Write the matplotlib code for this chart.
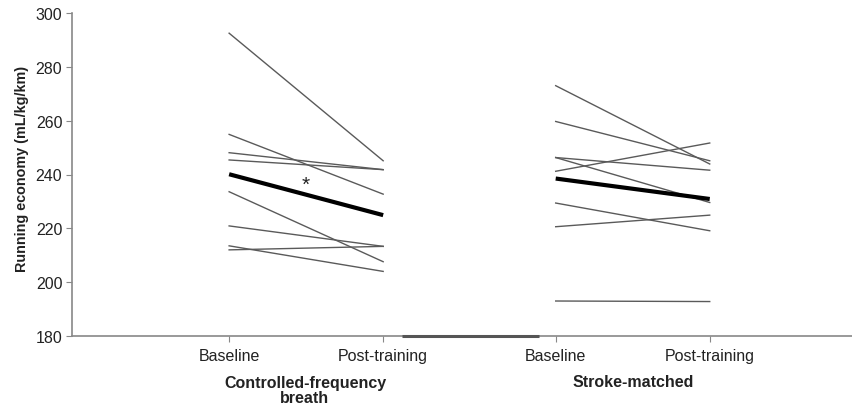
import numpy as np
import matplotlib.pyplot as plt

plt.rcParams['font.family'] = ['Liberation Sans', 'DejaVu Sans']

# ---------------------------------------------------------------
# Data (mL/kg/km)
# ---------------------------------------------------------------
tick_labels = ['Baseline', 'Post-training', 'Baseline', 'Post-training']
group_labels = ['Controlled-frequency\nbreath', 'Stroke-matched']

cfb_baseline = [292.5, 254.9, 248.1, 245.4, 233.6, 220.9, 213.5, 212.0]
cfb_post     = [245.1, 232.7, 241.8, 241.8, 207.6, 213.3, 204.0, 213.3]
cfb_mean     = [240.1, 224.9]

sm_baseline = [273.0, 259.7, 246.3, 246.3, 241.2, 229.4, 220.6, 193.0]
sm_post     = [243.9, 245.1, 241.6, 229.6, 251.7, 219.1, 224.9, 192.8]
sm_mean     = [238.5, 230.9]

# x positions of the four conditions
xpos = [1.0, 2.0, 3.12, 4.12]

fig = plt.figure(figsize=(8.53, 4.10), dpi=100)
ax = fig.add_axes([72 / 853, 1 - 337 / 410, 1 - 72 / 853, (337 - 14) / 410])

grey = '#5a5a5a'
for b, p in zip(cfb_baseline, cfb_post):
    ax.plot(xpos[0:2], [b, p], color=grey, lw=1.0)
ax.plot(xpos[0:2], cfb_mean, color='black', lw=3.0, solid_capstyle='butt')

for b, p in zip(sm_baseline, sm_post):
    ax.plot(xpos[2:4], [b, p], color=grey, lw=1.0)
ax.plot(xpos[2:4], sm_mean, color='black', lw=3.0, solid_capstyle='butt')

ax.text(1.50, 236.2, '*', ha='center', va='center', fontsize=15, color='#222222')

# darker segment on the x axis between the two groups
ax.plot([2.12, 3.01], [180, 180], color='#555555', lw=2.2, clip_on=False,
        solid_capstyle='butt', zorder=5)

ax.set_xlim(-0.02, 5.05)
ax.set_ylim(180, 300)
ax.set_yticks(np.arange(180, 301, 20))
ax.set_xticks(xpos)
ax.set_xticklabels(tick_labels, fontsize=11.5, color='#222222')
ax.tick_params(axis='y', labelsize=11.5, length=4, color='#888888',
               labelcolor='#222222', pad=3)
ax.tick_params(axis='x', length=4, color='#888888', pad=5)

for s in ['top', 'right']:
    ax.spines[s].set_visible(False)
for s in ['left', 'bottom']:
    ax.spines[s].set_color('#888888')
    ax.spines[s].set_linewidth(1.2)

ax.set_ylabel('Running economy (mL/kg/km)', fontsize=10.4, fontweight='bold',
              color='#222222')
ax.yaxis.set_label_coords((29 - 72) / (853 - 72), 0.5 + 7 / 323)

fig.text(305 / 853, 1 - 391.5 / 410, group_labels[0], ha='center', va='center',
         fontsize=11.5, fontweight='bold', linespacing=1.0, color='#222222')
fig.text(633 / 853, 1 - 383 / 410, group_labels[1], ha='center', va='center',
         fontsize=11.5, fontweight='bold', color='#222222')

plt.savefig('out.png', dpi=100)
plt.close()
